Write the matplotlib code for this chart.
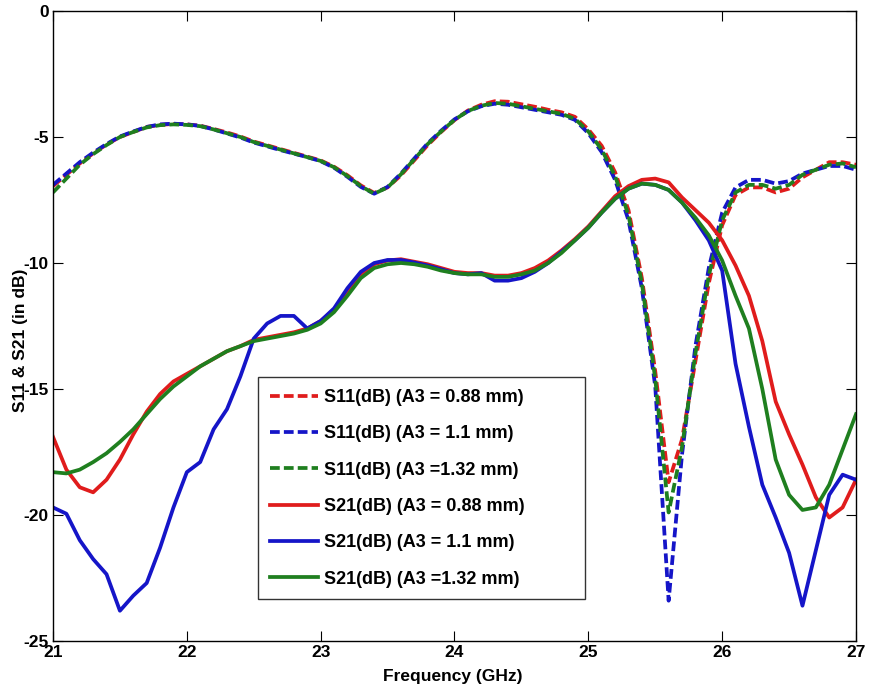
import numpy as np
import matplotlib
matplotlib.use("Agg")
import matplotlib.pyplot as plt

plt.rcParams['font.family'] = ['Liberation Sans', 'DejaVu Sans']
plt.rcParams['font.weight'] = 'bold'

freq = np.round(np.linspace(21.0, 27.0, 61), 2)

s11_088 = [-6.95, -6.5, -6.05, -5.65, -5.3, -5.0, -4.8, -4.6, -4.52, -4.48,
           -4.5, -4.55, -4.68, -4.82, -4.98, -5.18, -5.33, -5.48, -5.63, -5.78,
           -5.93, -6.18, -6.52, -6.92, -7.22, -7.0, -6.52, -5.92, -5.32, -4.8,
           -4.33, -3.95, -3.72, -3.58, -3.6, -3.7, -3.8, -3.92, -4.02, -4.2,
           -4.7, -5.35, -6.4, -7.9, -10.6, -14.3, -18.7, -17.0, -13.9, -10.8,
           -8.5, -7.3, -7.0, -7.0, -7.2, -7.05, -6.6, -6.3, -6.0, -6.0, -6.1]
s11_110 = [-6.9, -6.45, -6.0, -5.62, -5.28, -4.98, -4.78, -4.6, -4.5, -4.47,
           -4.5, -4.56, -4.7, -4.86, -5.02, -5.22, -5.37, -5.52, -5.66, -5.8,
           -5.96, -6.22, -6.58, -6.98, -7.25, -6.98, -6.45, -5.85, -5.25, -4.75,
           -4.3, -3.98, -3.78, -3.68, -3.72, -3.82, -3.92, -4.02, -4.12, -4.32,
           -4.85, -5.6, -6.7, -8.3, -11.0, -14.9, -23.4, -17.6, -13.3, -10.2,
           -8.0, -7.0, -6.7, -6.7, -6.85, -6.75, -6.45, -6.3, -6.15, -6.15, -6.3]
s11_132 = [-7.2, -6.65, -6.1, -5.68, -5.32, -5.0, -4.8, -4.62, -4.53, -4.5,
           -4.52, -4.57, -4.7, -4.85, -5.0, -5.2, -5.35, -5.5, -5.65, -5.8,
           -5.95, -6.2, -6.55, -6.95, -7.25, -7.0, -6.48, -5.88, -5.28, -4.78,
           -4.32, -3.97, -3.76, -3.65, -3.68, -3.78, -3.88, -3.98, -4.08, -4.28,
           -4.78, -5.5, -6.55, -8.1, -10.8, -14.6, -19.9, -17.3, -13.6, -10.5,
           -8.3, -7.2, -6.9, -6.9, -7.05, -6.9, -6.5, -6.3, -6.1, -6.05, -6.2]

s21_088 = [-16.9, -18.2, -18.9, -19.1, -18.6, -17.8, -16.8, -15.9, -15.2, -14.7,
           -14.4, -14.1, -13.8, -13.5, -13.3, -13.05, -12.95, -12.85, -12.75, -12.6,
           -12.3, -11.85, -11.1, -10.45, -10.05, -9.9, -9.85, -9.95, -10.05, -10.2,
           -10.35, -10.4, -10.4, -10.5, -10.5, -10.4, -10.2, -9.9, -9.5, -9.05,
           -8.55, -7.95, -7.35, -6.95, -6.7, -6.65, -6.8, -7.4, -7.9, -8.4,
           -9.1, -10.1, -11.3, -13.1, -15.5, -16.8, -18.0, -19.3, -20.1, -19.7, -18.6]
s21_110 = [-19.7, -19.95, -21.0, -21.75, -22.35, -23.8, -23.2, -22.7, -21.3, -19.7,
           -18.3, -17.9, -16.6, -15.8, -14.5, -13.0, -12.4, -12.1, -12.1, -12.6,
           -12.3, -11.8, -11.0, -10.35, -10.0, -9.88, -9.88, -9.98, -10.1, -10.25,
           -10.4, -10.45, -10.4, -10.7, -10.7, -10.6, -10.35, -10.0, -9.55, -9.1,
           -8.6, -8.0, -7.45, -7.05, -6.85, -6.9, -7.1, -7.6, -8.3, -9.1,
           -10.3, -14.0, -16.5, -18.8, -20.1, -21.5, -23.6, -21.4, -19.2, -18.4, -18.6]
s21_132 = [-18.3, -18.35, -18.2, -17.9, -17.55, -17.1, -16.6, -16.0, -15.4, -14.9,
           -14.5, -14.1, -13.8, -13.5, -13.3, -13.1, -13.0, -12.9, -12.8, -12.65,
           -12.4, -11.95, -11.3, -10.6, -10.2, -10.05, -10.0, -10.05, -10.15, -10.3,
           -10.4, -10.45, -10.45, -10.55, -10.55, -10.45, -10.3, -10.0, -9.6, -9.1,
           -8.6, -8.0, -7.45, -7.05, -6.85, -6.9, -7.1, -7.6, -8.2, -8.9,
           -9.9, -11.3, -12.6, -15.0, -17.8, -19.2, -19.8, -19.7, -18.8, -17.4, -16.0]

labels = ["S11(dB) (A3 = 0.88 mm)", "S11(dB) (A3 = 1.1 mm)", "S11(dB) (A3 =1.32 mm)",
          "S21(dB) (A3 = 0.88 mm)", "S21(dB) (A3 = 1.1 mm)", "S21(dB) (A3 =1.32 mm)"]
xticks = [21, 22, 23, 24, 25, 26, 27]
yticks = [0, -5, -10, -15, -20, -25]

RED = '#e01c1c'
BLUE = '#1515c8'
GREEN = '#1f7f1f'

fig = plt.figure(figsize=(8.85, 6.98), dpi=100)
ax = fig.add_axes([53/885, 1 - 641/698, 803/885, 630/698])

dash = (0, (2.6, 1.1))
lw = 2.7
ax.plot(freq, s11_088, color=RED, lw=lw, linestyle=dash, label=labels[0])
ax.plot(freq, s11_110, color=BLUE, lw=lw, linestyle=dash, label=labels[1])
ax.plot(freq, s11_132, color=GREEN, lw=lw, linestyle=dash, label=labels[2])
ax.plot(freq, s21_088, color=RED, lw=lw, label=labels[3])
ax.plot(freq, s21_110, color=BLUE, lw=lw, label=labels[4])
ax.plot(freq, s21_132, color=GREEN, lw=lw, label=labels[5])

ax.set_xlim(21, 27)
ax.set_ylim(-25, 0)
ax.set_xticks(xticks)
ax.set_yticks(yticks)
ax.set_xticklabels([str(t) for t in xticks])
ax.set_yticklabels([str(t) for t in yticks])
ax.tick_params(direction='in', length=7, width=0.8, top=True, right=True,
               labelsize=12.5, pad=3)
for lab in ax.get_xticklabels() + ax.get_yticklabels():
    lab.set_fontweight('bold')
for sp in ax.spines.values():
    sp.set_linewidth(1.0)
    sp.set_color('black')

ax.set_xlabel("Frequency (GHz)", fontsize=12.5, fontweight='bold')
ax.xaxis.set_label_coords(0.498, -0.044)
ax.set_ylabel("S11 & S21 (in dB)", fontsize=12.5, fontweight='bold')
ax.yaxis.set_label_coords(-0.031, 0.478)

leg = ax.legend(loc='upper left', bbox_to_anchor=(0.255, 0.419, 0.408, 0.0),
                mode='expand', fancybox=False, frameon=True, edgecolor='black',
                prop={'weight': 'bold', 'size': 13}, handlelength=2.65,
                labelspacing=1.07, borderpad=0.66, handletextpad=0.35,
                borderaxespad=0)
leg.get_frame().set_linewidth(1.0)

fig.savefig("out.png", dpi=100, facecolor='white')
